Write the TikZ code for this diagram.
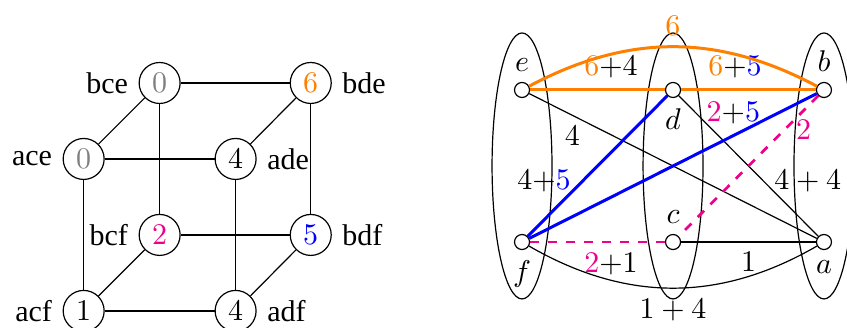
\documentclass[tikz,border=0pt]{standalone}
\usepackage{fontspec}
\setmainfont{Liberation Serif}
\definecolor{pk}{RGB}{236,0,140}
\newcommand{\og}[1]{\textcolor{orange}{#1}}
\newcommand{\bl}[1]{\textcolor{blue}{#1}}
\newcommand{\pn}[1]{\textcolor{pk}{#1}}

\begin{document}
\begin{tikzpicture}[
  st/.style={circle,draw,minimum size=0.48cm,inner sep=0pt},
  vx/.style={circle,draw,fill=white,minimum size=0.176cm,inner sep=0pt},
  ob/.style={orange,line width=1pt},
  bb/.style={blue,line width=1pt},
  pb/.style={pk,line width=0.9pt,dashed}]
  \useasboundingbox (0,0) rectangle (9.922,3.842);
  % cube of states
  \node[st,text=gray,label=left:ace] (ace) at (0.98,1.98) {$0$};
  \node[st,label=right:ade] (ade) at (2.76,1.98) {$4$};
  \node[st,label=left:acf] (acf) at (0.98,0.20) {$1$};
  \node[st,label=right:adf] (adf) at (2.76,0.20) {$4$};
  \node[st,text=gray,label=left:bce] (bce) at (1.87,2.87) {$0$};
  \node[st,text=orange,label=right:bde] (bde) at (3.64,2.87) {$6$};
  \node[st,text=pk,label=left:bcf] (bcf) at (1.87,1.09) {$2$};
  \node[st,text=blue,label=right:bdf] (bdf) at (3.64,1.09) {$5$};
  \draw (ace) -- (ade) -- (adf) -- (acf) -- (ace);
  \draw (bce) -- (bde) -- (bdf) -- (bcf) -- (bce);
  \draw (ace) -- (bce) (ade) -- (bde) (acf) -- (bcf) (adf) -- (bdf);
  % groups
  \draw (6.115,1.898) ellipse (0.351 and 1.558);
  \draw (7.884,1.898) ellipse (0.351 and 1.558);
  \draw (9.652,1.898) ellipse (0.351 and 1.558);
  % vertices
  \node[vx,label=above:$e$] (e) at (6.115,2.788) {};
  \node[vx,label=below:$d$] (d) at (7.884,2.788) {};
  \node[vx,label=above:$b$] (b) at (9.652,2.788) {};
  \node[vx,label=below:$f$] (f) at (6.115,1.007) {};
  \node[vx,label=above:$c$] (c) at (7.884,1.007) {};
  \node[vx,label=below:$a$] (a) at (9.652,1.007) {};
  % edges
  \draw (e) -- node[pos=0.15,below]{$4$} (a);
  \draw (d) -- node[pos=0.61,right]{$4+4$} (a);
  \draw (c) -- node[below]{$1$} (a);
  \draw (f) to[bend right=30] node[below]{$1+4$} (a);
  \draw[pb] (f) -- node[pos=0.6,below,text=black]{$\pn{2}{+}1$} (c);
  \draw[pb] (b) -- node[pos=0.24,right]{$2$} (c);
  \draw[bb] (f) -- node[pos=0.39,left,text=black]{$4{+}\bl{5}$} (d);
  \draw[bb] (b) -- node[pos=0.29,above,text=black]{$\pn{2}{+}\bl{5}$} (f);
  \draw[ob] (e) -- node[pos=0.6,above,text=black]{$\og{6}{+}4$} (d);
  \draw[ob] (d) -- node[pos=0.4,above,text=black]{$\og{6}{+}\bl{5}$} (b);
  \draw[ob] (e) to[bend left=28] node[above]{$6$} (b);
\end{tikzpicture}
\end{document}
